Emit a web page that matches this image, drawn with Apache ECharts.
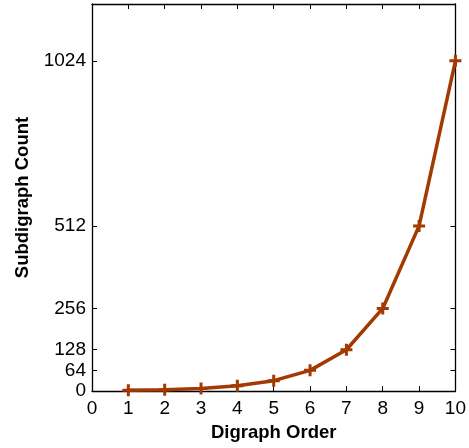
<!DOCTYPE html>
<html><head><meta charset="utf-8">
<script src="https://cdn.jsdelivr.net/npm/echarts@6/dist/echarts.min.js"></script>
<style>html,body{margin:0;padding:0;background:#fff}#c{width:469px;height:448px}</style>
</head><body><div id="c"></div>
<script>
const orders = [1,2,3,4,5,6,7,8,9,10];
const counts = [2,4,8,16,32,64,128,256,512,1024];
const yTicks = [0,64,128,256,512,1024];
const xTicks = [0,1,2,3,4,5,6,7,8,9,10];

const chart = echarts.init(document.getElementById('c'));
const font = '"Liberation Sans", Arial, sans-serif';
const axisLine = {show:true, onZero:false, lineStyle:{color:'#000', width:1.3}};
const tick = {show:true, inside:true, length:5, lineStyle:{color:'#000', width:1}};
const yTick = {show:true, inside:true, length:5, lineStyle:{color:'#000', width:1}, customValues:yTicks};
const plus = 'path://M-1.5,-6H1.5V-1.5H6V1.5H1.5V6H-1.5V1.5H-6V-1.5H-1.5Z';
const color = '#A23A02';
chart.setOption({
  animation:false,
  grid:{left:92, right:12, top:4, bottom:57, containLabel:false},
  xAxis:[{
    type:'value', min:0, max:10, interval:1, position:'bottom',
    axisLine, axisTick:tick, splitLine:{show:false},
    axisLabel:{color:'#000', fontSize:19, fontFamily:font, margin:8, customValues:xTicks, formatter:v=>String(v)},
    name:'Digraph Order', nameLocation:'middle', nameGap:32,
    nameTextStyle:{color:'#000', fontSize:18.5, fontWeight:'bold', fontFamily:font}
  },{
    type:'value', min:0, max:10, interval:1, position:'top',
    axisLine, axisTick:tick, axisLabel:{show:false}, splitLine:{show:false}
  }],
  yAxis:[{
    type:'value', min:0, max:1200, position:'left',
    axisLine, axisTick:yTick, splitLine:{show:false},
    axisLabel:{color:'#000', fontSize:19, fontFamily:font, margin:6, customValues:yTicks, formatter:v=>String(v)},
    name:'Subdigraph Count', nameLocation:'middle', nameGap:57,
    nameTextStyle:{color:'#000', fontSize:18.5, fontWeight:'bold', fontFamily:font}
  },{
    type:'value', min:0, max:1200, position:'right',
    axisLine, axisTick:yTick, axisLabel:{show:false}, splitLine:{show:false}
  }],
  series:[{
    type:'line',
    data: orders.map((o,i)=>[o, counts[i]]),
    lineStyle:{color:color, width:3.5},
    itemStyle:{color:color},
    symbol:plus, symbolSize:12, showSymbol:true
  }]
});
</script></body></html>
